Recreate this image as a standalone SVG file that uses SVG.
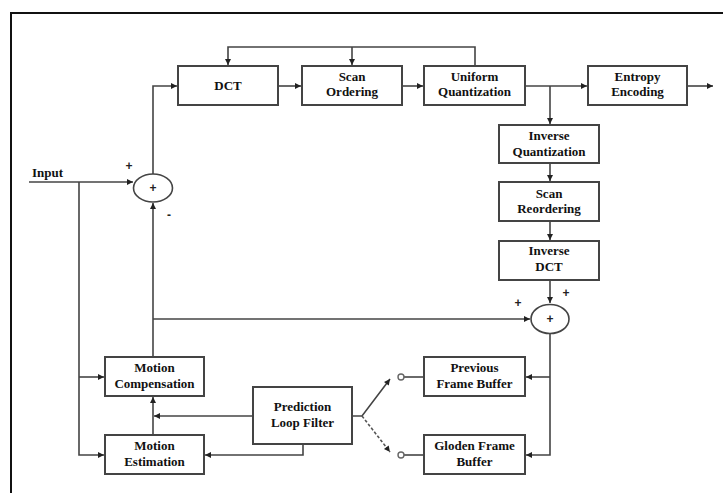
<svg xmlns="http://www.w3.org/2000/svg" width="723" height="493" viewBox="0 0 723 493">
<defs>
<style>
.box{fill:#fff;stroke:#444;stroke-width:2}
.ln{fill:none;stroke:#444;stroke-width:1.6}
.dash{fill:none;stroke:#555;stroke-width:1.6;stroke-dasharray:3 2}
.t{font-family:"Liberation Serif",serif;font-weight:bold;font-size:13px;fill:#111;text-anchor:middle}
.s{font-family:"Liberation Sans",sans-serif;font-weight:bold;font-size:12px;fill:#222;text-anchor:middle}
.oc{fill:#fff;stroke:#666;stroke-width:1.4}
</style>
<marker id="a" viewBox="0 0 10 10" refX="10" refY="5" markerWidth="9" markerHeight="6" markerUnits="userSpaceOnUse" orient="auto">
<path d="M0,0 L10,5 L0,10 z" fill="#222"/>
</marker>
</defs>
<rect width="723" height="493" fill="#fff"/>
<path d="M11,493 V13 H723" fill="none" stroke="#111" stroke-width="2"/>

<g id="connectors">
<path class="ln" d="M29,182 H133" marker-end="url(#a)"/>
<path class="ln" d="M79,182 V455 H104" marker-end="url(#a)"/>
<path class="ln" d="M79,377 H104" marker-end="url(#a)"/>
<path class="ln" d="M153,174 V86 H177" marker-end="url(#a)"/>
<path class="ln" d="M153,357 V203" marker-end="url(#a)"/>
<path class="ln" d="M153,319 H530" marker-end="url(#a)"/>
<path class="ln" d="M278,86 H301" marker-end="url(#a)"/>
<path class="ln" d="M402,86 H423" marker-end="url(#a)"/>
<path class="ln" d="M525,86 H587" marker-end="url(#a)"/>
<path class="ln" d="M687,86 H713" marker-end="url(#a)"/>
<path class="ln" d="M475,66 V47 H228 V65" marker-end="url(#a)"/>
<path class="ln" d="M352,47 V65" marker-end="url(#a)"/>
<path class="ln" d="M550,86 V124" marker-end="url(#a)"/>
<path class="ln" d="M550,163 V181" marker-end="url(#a)"/>
<path class="ln" d="M550,221 V240" marker-end="url(#a)"/>
<path class="ln" d="M550,280 V303" marker-end="url(#a)"/>
<path class="ln" d="M550,334 V455 H526" marker-end="url(#a)"/>
<path class="ln" d="M550,377 H526" marker-end="url(#a)"/>
<path class="ln" d="M153,435 V397" marker-end="url(#a)"/>
<path class="ln" d="M253,416 H154" marker-end="url(#a)"/>
<path class="ln" d="M303,444 V455 H205" marker-end="url(#a)"/>
<path class="ln" d="M352,416 H362 L390,379" marker-end="url(#a)"/>
<path class="dash" d="M362,416 L390,452" marker-end="url(#a)"/>
<path class="ln" d="M404,377 H424"/>
<path class="ln" d="M404,455 H424"/>
<circle class="oc" cx="401" cy="377" r="3"/>
<circle class="oc" cx="401" cy="455" r="3"/>
</g>

<text x="32" y="177" class="t" style="text-anchor:start">Input</text>

<g id="sum1">
<ellipse cx="153" cy="188" rx="19.5" ry="14" fill="#fff" stroke="#444" stroke-width="1.6"/>
<text x="153" y="192" class="s">+</text>
<text x="129" y="170" class="s">+</text>
<text x="169" y="219" class="s">-</text>
</g>

<g id="sum2">
<ellipse cx="550" cy="319" rx="19" ry="14.5" fill="#fff" stroke="#444" stroke-width="1.6"/>
<text x="550" y="323" class="s">+</text>
<text x="518" y="307" class="s">+</text>
<text x="566" y="297" class="s">+</text>
</g>

<g id="dct"><rect class="box" x="178" y="66" width="100" height="39"/><text x="228" y="90" class="t">DCT</text></g>
<g id="scan"><rect class="box" x="302" y="66" width="100" height="39"/><text x="352" y="81" class="t">Scan</text><text x="352" y="96" class="t">Ordering</text></g>
<g id="uq"><rect class="box" x="424" y="66" width="101" height="39"/><text x="474.5" y="81" class="t">Uniform</text><text x="474.5" y="96" class="t">Quantization</text></g>
<g id="ent"><rect class="box" x="588" y="66" width="99" height="39"/><text x="637.5" y="81" class="t">Entropy</text><text x="637.5" y="96" class="t">Encoding</text></g>
<g id="iq"><rect class="box" x="499" y="125" width="100" height="38"/><text x="549" y="140" class="t">Inverse</text><text x="549" y="156" class="t">Quantization</text></g>
<g id="sr"><rect class="box" x="499" y="182" width="100" height="39"/><text x="549" y="198" class="t">Scan</text><text x="549" y="213" class="t">Reordering</text></g>
<g id="idct"><rect class="box" x="499" y="241" width="100" height="39"/><text x="549" y="255" class="t">Inverse</text><text x="549" y="271" class="t">DCT</text></g>
<g id="mc"><rect class="box" x="105" y="357" width="99" height="39"/><text x="154.5" y="372" class="t">Motion</text><text x="154.5" y="388" class="t">Compensation</text></g>
<g id="me"><rect class="box" x="105" y="435" width="99" height="39"/><text x="154.5" y="450" class="t">Motion</text><text x="154.5" y="466" class="t">Estimation</text></g>
<g id="plf"><rect class="box" x="253" y="387" width="99" height="57"/><text x="302.5" y="411" class="t">Prediction</text><text x="302.5" y="427" class="t">Loop Filter</text></g>
<g id="pfb"><rect class="box" x="424" y="357" width="101" height="39"/><text x="474.5" y="372" class="t">Previous</text><text x="474.5" y="388" class="t">Frame Buffer</text></g>
<g id="gfb"><rect class="box" x="424" y="435" width="101" height="39"/><text x="474.5" y="450" class="t">Gloden Frame</text><text x="474.5" y="466" class="t">Buffer</text></g>
</svg>
